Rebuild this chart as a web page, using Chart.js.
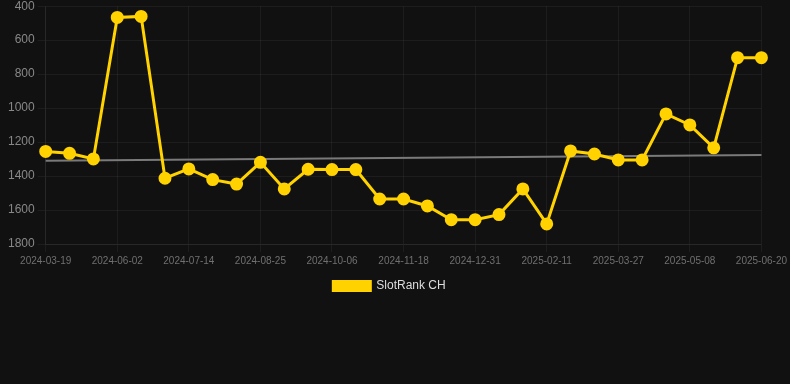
<!DOCTYPE html>
<html>
<head>
<meta charset="utf-8">
<script src="https://cdn.jsdelivr.net/npm/chart.js@4/dist/chart.umd.min.js"></script>
<style>
html,body{margin:0;padding:0;background:#111111;overflow:hidden;}
#wrap{position:relative;top:-4px;width:790px;height:306px;}
</style>
</head>
<body>
<div id="wrap"><canvas id="c"></canvas></div>
<script>
const labels = [
  "2024-03-19","2024-04-13","2024-05-08","2024-06-02","2024-06-16","2024-06-30",
  "2024-07-14","2024-07-28","2024-08-11","2024-08-25","2024-09-08","2024-09-22",
  "2024-10-06","2024-10-20","2024-11-04","2024-11-18","2024-12-02","2024-12-16",
  "2024-12-31","2025-01-14","2025-01-28","2025-02-11","2025-02-25","2025-03-12",
  "2025-03-27","2025-04-10","2025-04-24","2025-05-08","2025-05-22","2025-06-05",
  "2025-06-20"
];
const rankValues = [
  1255,1266,1299,466,460,1413,1358,1421,1447,1319,1476,1360,
  1362,1362,1535,1535,1576,1657,1657,1627,1476,1682,1252,1270,
  1305,1305,1034,1099,1234,703,703
];
const trendValues = [1310,null,null,null,null,null,null,null,null,null,null,null,null,null,null,null,null,null,null,null,null,null,null,null,null,null,null,null,null,null,1276];
const yTicks = [400,600,800,1000,1200,1400,1600,1800];

new Chart(document.getElementById('c'), {
  type: 'line',
  data: {
    labels: labels,
    datasets: [
      {
        label: 'SlotRank CH',
        data: rankValues,
        borderColor: '#FFD200',
        backgroundColor: '#FFD200',
        borderWidth: 3,
        pointRadius: 5,
        pointHoverRadius: 5,
        pointBackgroundColor: '#FFD200',
        pointBorderColor: '#FFD200',
        tension: 0
      },
      {
        label: 'trend',
        data: trendValues,
        borderColor: '#7a7a7a',
        borderWidth: 2,
        pointRadius: 0,
        spanGaps: true,
        tension: 0
      }
    ]
  },
  options: {
    responsive: true,
    maintainAspectRatio: false,
    animation: false,
    layout: { padding: { left: 5, right: 16, top: 0, bottom: 0 } },
    plugins: {
      legend: {
        position: 'bottom',
        labels: {
          color: '#dddddd',
          font: { family: 'Liberation Sans, Arial, sans-serif', size: 12 },
          boxWidth: 37,
          boxHeight: 9,
          filter: (item) => item.text === 'SlotRank CH'
        }
      },
      tooltip: { enabled: false }
    },
    scales: {
      x: {
        grid: { color: 'rgba(255,255,255,0.05)', drawTicks: true },
        border: { color: 'rgba(255,255,255,0.05)' },
        ticks: {
          color: '#707070',
          font: { family: 'Liberation Sans, Arial, sans-serif', size: 10 },
          maxRotation: 0,
          autoSkip: true,
          callback: function(v, i) { return i % 3 === 0 ? labels[i] : null; }
        }
      },
      y: {
        reverse: true,
        min: yTicks[0],
        max: yTicks[yTicks.length - 1],
        afterBuildTicks: (axis) => { axis.ticks = yTicks.map(v => ({ value: v })); },
        grid: { color: 'rgba(255,255,255,0.05)' },
        border: { color: 'rgba(255,255,255,0.05)' },
        ticks: {
          color: '#888888',
          font: { family: 'Liberation Sans, Arial, sans-serif', size: 12 },
          callback: (v) => String(v)
        }
      }
    }
  }
});
</script>
</body>
</html>
